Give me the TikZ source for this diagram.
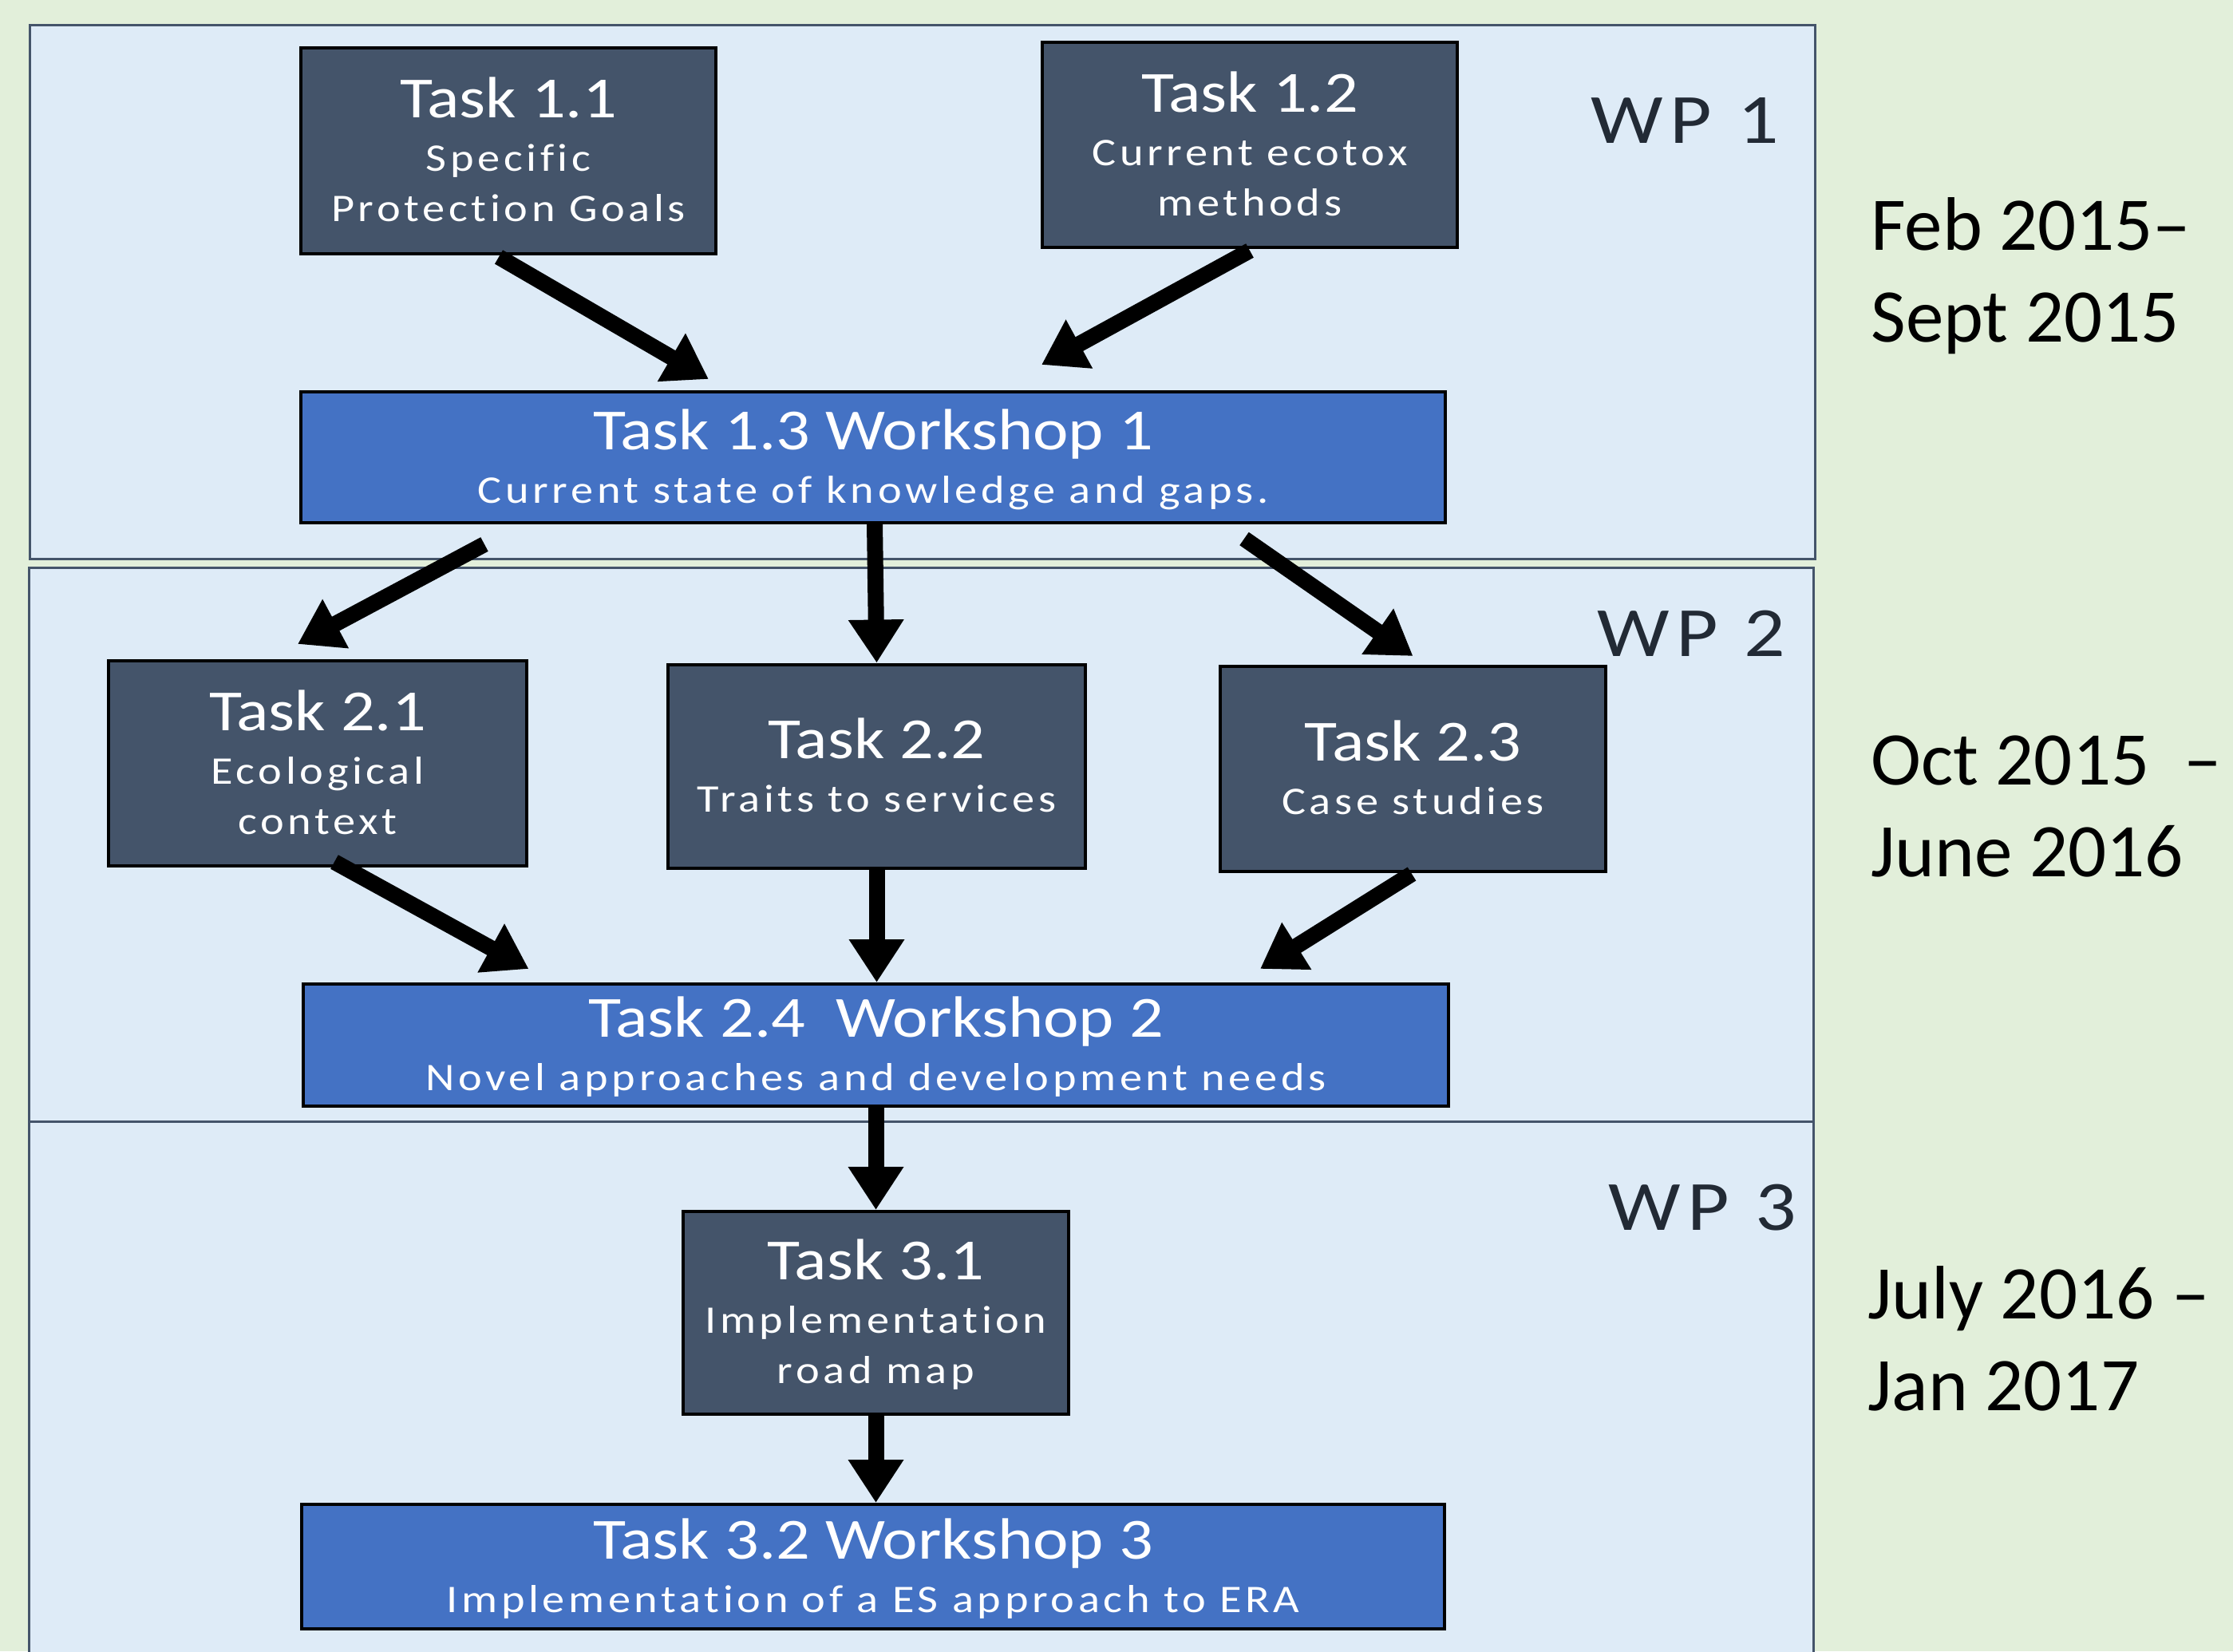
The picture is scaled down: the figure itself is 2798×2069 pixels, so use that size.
\documentclass[tikz,border=0pt]{standalone}
\usepackage{fontspec}
\setmainfont{Carlito}
\newfontfamily\ttlfont{Carlito}[FakeStretch=1.155,Ligatures=NoCommon]
\newfontfamily\subfont{Carlito}[FakeStretch=1.15,LetterSpace=9.5,Ligatures=NoCommon]
\newfontfamily\wpfont{Carlito}[FakeStretch=1.15,LetterSpace=10,Ligatures=NoCommon]
\usetikzlibrary{arrows.meta,calc}
\definecolor{bggreen}{HTML}{E2EFDA}
\definecolor{panelblue}{HTML}{DEEBF7}
\definecolor{slate}{HTML}{44546A}
\definecolor{wsblue}{HTML}{4472C4}
\definecolor{wptext}{HTML}{222A35}
\newcommand\TL[1]{{\ttlfont\fontsize{36.5pt}{31.5pt}\selectfont\rule{0pt}{0.82em}#1}}
\newcommand\SL[1]{{\rule[-6.1pt]{0pt}{24.5pt}#1}}
\tikzset{
  taskbox/.style={draw=black, line width=2pt, fill=slate, text=white, inner sep=0pt,
    align=center, font=\subfont\fontsize{24.5pt}{31.5pt}\selectfont},
  wsbox/.style={taskbox, fill=wsblue},
  panel/.style={fill=panelblue, draw=slate, line width=1.5pt},
  wplabel/.style={font=\wpfont\fontsize{44.25pt}{50pt}\selectfont, text=wptext, inner sep=0pt, anchor=base west},
  datelabel/.style={font=\fontsize{47.5pt}{57.5pt}\selectfont, text=black, inner sep=0pt, align=left, anchor=north west},
  bigarrow/.style={line width=10pt, draw=black, -{Triangle[width=33pt,length=27pt]}}
}
\begin{document}
\begin{tikzpicture}[x=0.5pt,y=-0.5pt]
\useasboundingbox (0,0) rectangle (2798,2069);
\clip (0,0) rectangle (2798,2069);
\fill[bggreen] (0,0) rectangle (2798,2069);
% work package panels
\draw[panel] (37,31) rectangle (2274,700);
\draw[panel] (36,711) rectangle (2272,1405);
\draw[panel] (36,1405) rectangle (2272,2140);
% labels
\node[wplabel] (wp1) at (1993,179) {WP 1};
\node[wplabel] (wp2) at (2001,822) {WP 2};
\node[wplabel] (wp3) at (2015,1541) {WP 3};
\node[datelabel] (d1) at (2344,242) {\rule{0pt}{0.75em}Feb 2015–\\Sept 2015};
\node[datelabel] (d2) at (2344,912) {\rule{0pt}{0.75em}Oct 2015~ –\\June 2016};
\node[datelabel] (d3) at (2340,1581) {\rule{0pt}{0.75em}July 2016 –\\Jan 2017};
% task boxes
\node[taskbox, minimum width=260pt, minimum height=129pt] (t11) at (637,189)
  {\TL{Task 1.1}\\[2pt]\SL{Specific}\\\SL{Protection Goals}};
\node[taskbox, minimum width=260pt, minimum height=128.5pt] (t12) at (1566,181.5)
  {\TL{Task 1.2}\\[2pt]\SL{Current ecotox}\\\SL{methods}};
\node[wsbox, minimum width=717pt, minimum height=82pt] (t13) at (1094,573)
  {\TL{Task 1.3 Workshop 1}\\[2pt]\SL{Current state of knowledge and gaps.}};
\node[taskbox, minimum width=262pt, minimum height=128.5pt] (t21) at (398,956.5)
  {\TL{Task 2.1}\\[2pt]\SL{Ecological}\\\SL{context}};
\node[taskbox, minimum width=261.5pt, minimum height=127.5pt] (t22) at (1098.5,960)
  {\TL{Task 2.2}\\[2pt]\SL{Traits to services}};
\node[taskbox, minimum width=241.5pt, minimum height=128.5pt] (t23) at (1770.5,963.5)
  {\TL{Task 2.3}\\[2pt]\SL{Case studies}};
\node[wsbox, minimum width=717.5pt, minimum height=76.5pt] (t24) at (1097.5,1309.5)
  {\TL{Task 2.4~ Workshop 2}\\[2pt]\SL{Novel approaches and development needs}};
\node[taskbox, minimum width=241.5pt, minimum height=127pt] (t31) at (1097.5,1645)
  {\TL{Task 3.1}\\[2pt]\SL{Implementation}\\\SL{road map}};
\node[wsbox, minimum width=716pt, minimum height=78pt] (t32) at (1094,1963)
  {\TL{Task 3.2 Workshop 3}\\[2pt]\SL{Implementation of a ES approach to ERA}};
% arrows
\draw[bigarrow] ($(t11.south)+(-12,2)$) -- ($(t13.north)+(-206,-14)$);
\draw[bigarrow] ($(t12.south)+(0,2)$) -- ($(t13.north)+(211,-32)$);
\draw[bigarrow] ($(t13.south)+(-487,25)$) -- ($(t21.north)+(-25,-19)$);
\draw[bigarrow] ($(t13.south)+(2,0)$) -- (t22.north);
\draw[bigarrow] ($(t13.south)+(465,18)$) -- ($(t23.north)+(0,-11)$);
\draw[bigarrow] ($(t21.south)+(21,-7)$) -- ($(t24.north)+(-435,-17)$);
\draw[bigarrow] (t22.south) -- (t22.south |- t24.north);
\draw[bigarrow] ($(t23.south)+(-1.5,1)$) -- ($(t24.north)+(481.5,-17)$);
\draw[bigarrow] (t24.south) -- (t24.south |- t31.north);
\draw[bigarrow] (t31.south) -- (t31.south |- t32.north);
\end{tikzpicture}
\end{document}
